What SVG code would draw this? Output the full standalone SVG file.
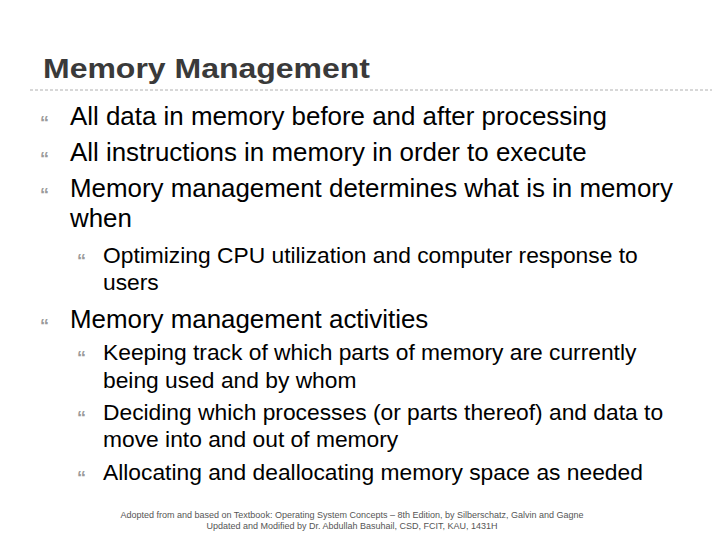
<svg xmlns="http://www.w3.org/2000/svg" width="720" height="540" viewBox="0 0 720 540">
<style>
text{font-family:"Liberation Sans",Arial,sans-serif;fill:#000}
.t{font-size:28px;fill:#3a3a3a;font-weight:bold}
.b1{font-size:25.9px}
.b2{font-size:22.8px}
.m{fill:#9a9a9a;font-size:18px;font-weight:bold}
.f{font-size:9px;fill:#555}
</style>
<rect width="720" height="540" fill="#fff"/>
<g id="title"><text class="t" x="43" y="78" textLength="327" lengthAdjust="spacingAndGlyphs">Memory Management</text>
<line x1="30" y1="90" x2="712" y2="90" stroke="#b0b0b0" stroke-dasharray="3,2"/></g>
<g id="body">
<text class="m" x="40" y="129">“</text><text class="b1" x="70" y="125">All data in memory before and after processing</text>
<text class="m" x="40" y="165">“</text><text class="b1" x="70" y="161">All instructions in memory in order to execute</text>
<text class="m" x="40" y="201">“</text><text class="b1" x="70" y="197">Memory management determines what is in memory</text>
<text class="b1" x="70" y="227">when</text>
<text class="m" x="77" y="267">“</text><text class="b2" x="103" y="263">Optimizing CPU utilization and computer response to</text>
<text class="b2" x="103" y="290">users</text>
<text class="m" x="40" y="332">“</text><text class="b1" x="70" y="328">Memory management activities</text>
<text class="m" x="77" y="364">“</text><text class="b2" x="103" y="360">Keeping track of which parts of memory are currently</text>
<text class="b2" x="103" y="388">being used and by whom</text>
<text class="m" x="77" y="424">“</text><text class="b2" x="103" y="420">Deciding which processes (or parts thereof) and data to</text>
<text class="b2" x="103" y="447">move into and out of memory</text>
<text class="m" x="77" y="484">“</text><text class="b2" x="103" y="480">Allocating and deallocating memory space as needed</text>
</g>
<g id="footer">
<text class="f" x="352" y="518" text-anchor="middle">Adopted from and based on Textbook: Operating System Concepts – 8th Edition, by Silberschatz, Galvin and Gagne</text>
<text class="f" x="352" y="529" text-anchor="middle">Updated and Modified by Dr. Abdullah Basuhail, CSD, FCIT, KAU, 1431H</text>
</g>
</svg>
